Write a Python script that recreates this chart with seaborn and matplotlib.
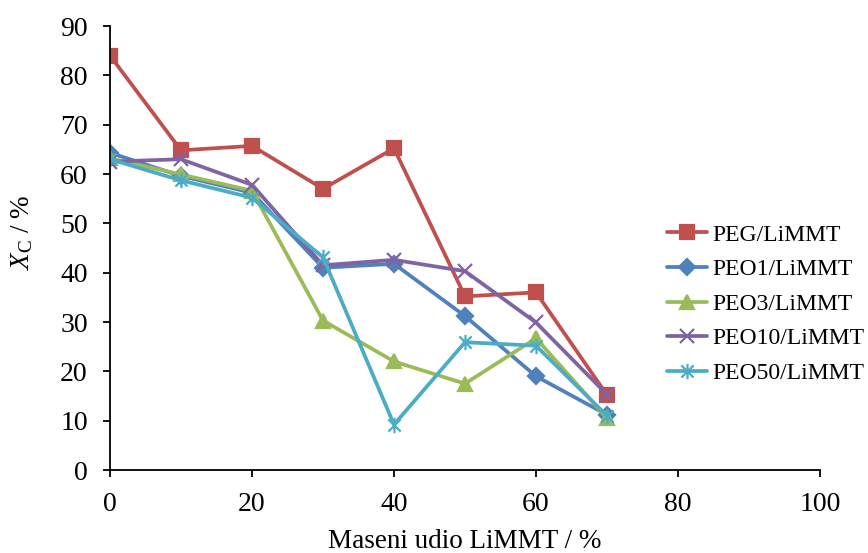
import matplotlib
matplotlib.use("Agg")
import matplotlib.pyplot as plt
from matplotlib.path import Path
import seaborn as sns
import pandas as pd

x_vals = [0, 10, 20, 30, 40, 50, 60, 70]
series_names = ["PEG/LiMMT", "PEO1/LiMMT", "PEO3/LiMMT", "PEO10/LiMMT", "PEO50/LiMMT"]
peg = [84.0, 64.8, 65.7, 57.0, 65.2, 35.2, 36.0, 15.2]
peo1 = [64.3, 59.6, 56.2, 41.0, 41.8, 31.2, 19.0, 11.2]
peo3 = [63.2, 59.9, 56.6, 30.3, 22.0, 17.5, 26.7, 10.5]
peo10 = [62.5, 63.0, 57.8, 41.5, 42.6, 40.3, 29.9, 15.3]
peo50 = [63.0, 58.7, 55.2, 43.1, 9.2, 25.9, 25.2, 11.0]
x_ticks = [0, 20, 40, 60, 80, 100]
y_ticks = [0, 10, 20, 30, 40, 50, 60, 70, 80, 90]

# Excel-style "star" marker: an x with a vertical stroke
star = Path([(-1, -1), (1, 1), (-1, 1), (1, -1), (0, -1.25), (0, 1.25)],
            [Path.MOVETO, Path.LINETO, Path.MOVETO, Path.LINETO,
             Path.MOVETO, Path.LINETO])

colors = ["#C0504D", "#4F81BD", "#9BBB59", "#8064A2", "#4BACC6"]
markers = ["s", "D", "^", "x", star]
msizes = [10, 8, 10, 10, 11]

rows = []
for name, vals in zip(series_names, [peg, peo1, peo3, peo10, peo50]):
    for xv, yv in zip(x_vals, vals):
        rows.append({"x": xv, "y": yv, "series": name})
df = pd.DataFrame(rows)

sns.set_theme(style="ticks")
plt.rcParams["font.family"] = ["Liberation Serif", "DejaVu Serif"]
plt.rcParams["mathtext.fontset"] = "custom"
plt.rcParams["mathtext.rm"] = "Liberation Serif"
plt.rcParams["mathtext.it"] = "Liberation Serif:italic"
plt.rcParams["text.color"] = "black"
plt.rcParams["axes.labelcolor"] = "black"

fig = plt.figure(figsize=(8.68, 5.53), dpi=100)
ax = fig.add_axes([110 / 868, 1 - 470 / 553, (820 - 110) / 868, (470 - 26) / 553])

for name, c, m, ms in zip(series_names, colors, markers, msizes):
    sub = df[df["series"] == name]
    sns.lineplot(data=sub, x="x", y="y", ax=ax, color=c, marker=m,
                 markersize=ms, linewidth=2.7, markeredgecolor=c,
                 markeredgewidth=1.6, label=name, errorbar=None)

ax.set_xlim(0, 100)
ax.set_ylim(0, 90)
ax.set_xticks(x_ticks)
ax.set_yticks(y_ticks)
for s in ["top", "right"]:
    ax.spines[s].set_visible(False)
for s in ["left", "bottom"]:
    ax.spines[s].set_color("black")
    ax.spines[s].set_linewidth(1.3)
ax.tick_params(axis="both", direction="out", length=5, width=1.3,
               labelsize=20, colors="black", pad=11)
ax.set_xlabel("Maseni udio LiMMT / %", fontsize=19.5)
ax.set_ylabel(r"$X_\mathrm{C}$ / %", fontsize=19.5)
ax.xaxis.set_label_coords(0.5, -0.133)
ax.yaxis.set_label_coords(-0.105, 0.536)
for t in ax.get_xticklabels() + ax.get_yticklabels():
    t.set_clip_on(False)

leg = ax.legend(loc="center left", bbox_to_anchor=(667 / 868, 1 - 304 / 553),
                bbox_transform=fig.transFigure, frameon=False, fontsize=17,
                borderpad=0, borderaxespad=0, handlelength=1.7,
                handletextpad=0.2, labelspacing=0.55)

fig.savefig("out.png", dpi=100)
